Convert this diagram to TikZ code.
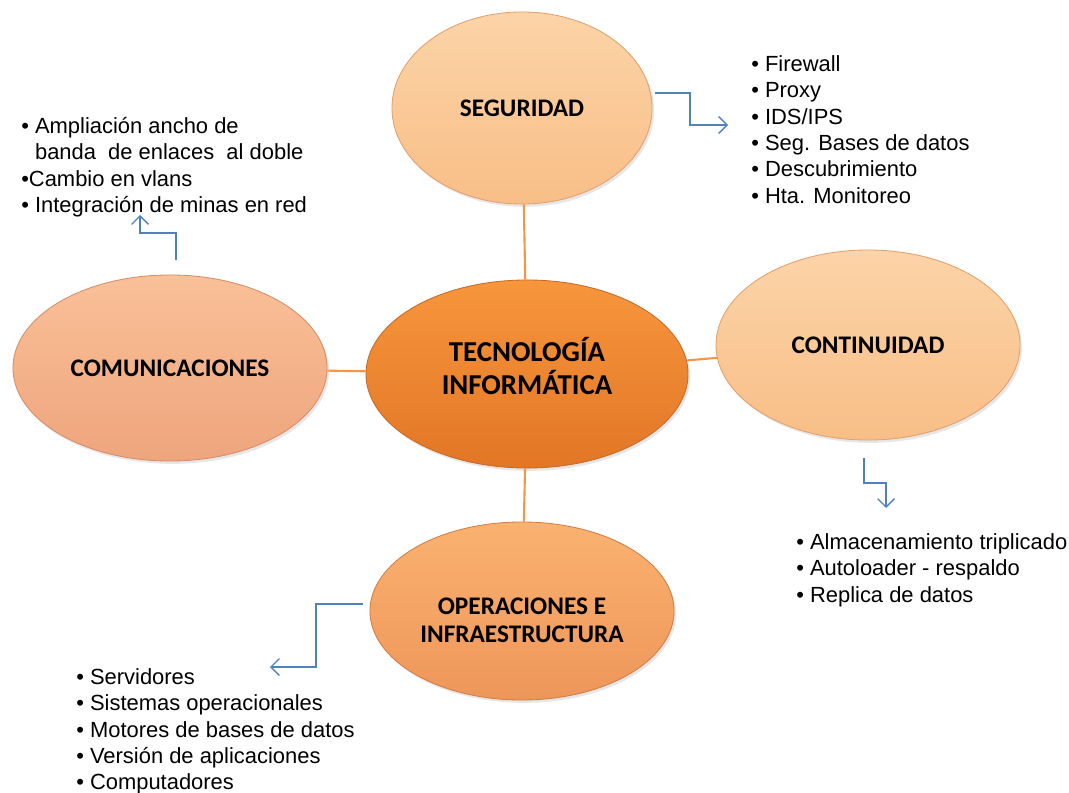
\documentclass[tikz,border=0pt]{standalone}
\usepackage{fontspec}
\setmainfont{Liberation Sans}
\newfontfamily\titlefont{Carlito}
\usetikzlibrary{shapes.geometric, arrows.meta, shadows}

\definecolor{tecTop}{RGB}{247,150,60}
\definecolor{tecBot}{RGB}{226,118,38}
\definecolor{tecEdge}{RGB}{200,105,40}
\definecolor{peachTop}{RGB}{252,212,168}
\definecolor{peachBot}{RGB}{248,190,135}
\definecolor{peachEdge}{RGB}{225,160,110}
\definecolor{salmonTop}{RGB}{250,192,152}
\definecolor{salmonBot}{RGB}{238,165,125}
\definecolor{salmonEdge}{RGB}{215,140,105}
\definecolor{opsTop}{RGB}{250,178,112}
\definecolor{opsBot}{RGB}{238,150,90}
\definecolor{opsEdge}{RGB}{210,125,70}
\definecolor{linkOrange}{RGB}{245,150,70}
\definecolor{arrowBlue}{RGB}{79,129,189}

\tikzset{
    bubble/.style={ellipse, inner sep=0pt, line width=0.6pt, align=center,
        font=\titlefont\bfseries\fontsize{18}{20}\selectfont,
        drop shadow={opacity=0.2, shadow xshift=1.5pt, shadow yshift=-2pt}},
    link/.style={draw=linkOrange, line width=1.5pt},
    pointer/.style={draw=arrowBlue, line width=0.9pt,
        -{Straight Barb[length=6pt,width=12pt]}},
    itemlist/.style={anchor=north west, inner sep=0pt, align=left,
        font=\fontsize{15.6}{18.7}\selectfont}
}

\begin{document}
\begin{tikzpicture}[
    x=0.025cm,
    y=-0.025cm
]
\useasboundingbox (0,0) rectangle (1069,793);

% --- Ellipsen ---
\node[bubble, top color=tecTop, bottom color=tecBot, draw=tecEdge,
    minimum width=8.05cm, minimum height=4.7cm,
    font=\titlefont\bfseries\fontsize{20.5}{23}\selectfont]
    (tec) at (527,374) {TECNOLOGÍA\\INFORMÁTICA\\[-11.6pt]\mbox{}};
\node[bubble, top color=peachTop, bottom color=peachBot, draw=peachEdge,
    minimum width=6.5cm, minimum height=4.8cm]
    (seg) at (522,108) {SEGURIDAD};
\node[bubble, top color=salmonTop, bottom color=salmonBot, draw=salmonEdge,
    minimum width=7.85cm, minimum height=4.65cm]
    (com) at (170,368) {COMUNICACIONES};
\node[bubble, top color=peachTop, bottom color=peachBot, draw=peachEdge,
    minimum width=7.6cm, minimum height=4.75cm]
    (con) at (868,345) {CONTINUIDAD};
\node[bubble, top color=opsTop, bottom color=opsBot, draw=opsEdge,
    minimum width=7.6cm, minimum height=4.45cm]
    (ops) at (522,611) {\mbox{}\\[5pt]OPERACIONES E\\INFRAESTRUCTURA};

% --- Verbindungen zur Mitte ---
\draw[link] (seg) -- (tec);
\draw[link] (com) -- (tec);
\draw[link] (con) -- (tec);
\draw[link] (ops) -- (tec);

% --- Listen ---
\node[itemlist] (segList) at (751,53) {\strut• Firewall\\• Proxy\\• IDS/IPS\\• Seg. Bases de datos\\• Descubrimiento\\• Hta. Monitoreo};
\node[itemlist] (comList) at (21,115) {\strut• Ampliación ancho de\\\phantom{• }banda\ \ de enlaces\ \ al doble\\•Cambio en vlans\\• Integración de minas en red};
\node[itemlist] (conList) at (796,531) {\strut• Almacenamiento triplicado\\• Autoloader - respaldo\\• Replica de datos};
\node[itemlist] (opsList) at (76,666) {\strut• Servidores\\• Sistemas operacionales\\• Motores de bases de datos\\• Versión de aplicaciones\\• Computadores};

% --- Pfeile zu den Listen ---
\coordinate (segOut) at (655,93);
\coordinate (segIn) at (728,125);
\draw[pointer] (segOut) -- ++(35,0) |- (segIn);

\coordinate (comOut) at (176,260);
\coordinate (comIn) at (140,215);
\draw[pointer] (comOut) -- ++(0,-27) -| (comIn);

\coordinate (conOut) at (864,458);
\coordinate (conIn) at (886,508);
\draw[pointer] (conOut) -- ++(0,25) -| (conIn);

\coordinate (opsOut) at (363,604);
\coordinate (opsIn) at (270,667);
\draw[pointer] (opsOut) -- ++(-47,0) |- (opsIn);

\end{tikzpicture}
\end{document}
